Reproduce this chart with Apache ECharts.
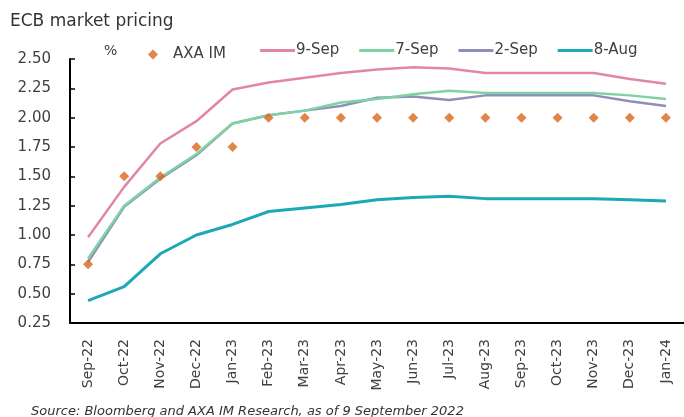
<!DOCTYPE html>
<html>
<head>
<meta charset="utf-8">
<script src="https://cdn.jsdelivr.net/npm/echarts@6/dist/echarts.min.js"></script>
<style>
  html, body { margin: 0; padding: 0; background: #fff; }
  #chart { width: 684px; height: 417px; }
</style>
</head>
<body>
<div id="chart"></div>
<script>
var months = ['Sep-22', 'Oct-22', 'Nov-22', 'Dec-22', 'Jan-23', 'Feb-23', 'Mar-23', 'Apr-23',
    'May-23', 'Jun-23', 'Jul-23', 'Aug-23', 'Sep-23', 'Oct-23', 'Nov-23', 'Dec-23', 'Jan-24'];

var axaIM = [0.75, 1.50, 1.50, 1.75, 1.75, 2.00, 2.00, 2.00, 2.00, 2.00, 2.00, 2.00, 2.00, 2.00, 2.00, 2.00, 2.00];
var sep9 = [0.98, 1.41, 1.78, 1.97, 2.24, 2.30, 2.34, 2.38, 2.41, 2.43, 2.42, 2.38, 2.38, 2.38, 2.38, 2.33, 2.29];
var sep7 = [0.80, 1.25, 1.49, 1.69, 1.95, 2.02, 2.06, 2.13, 2.16, 2.20, 2.23, 2.21, 2.21, 2.21, 2.21, 2.19, 2.16];
var sep2 = [0.77, 1.24, 1.48, 1.68, 1.95, 2.02, 2.06, 2.10, 2.17, 2.18, 2.15, 2.19, 2.19, 2.19, 2.19, 2.14, 2.10];
var aug8 = [0.44, 0.56, 0.84, 1.00, 1.09, 1.20, 1.23, 1.26, 1.30, 1.32, 1.33, 1.31, 1.31, 1.31, 1.31, 1.30, 1.29];

var font = 'DejaVu Sans';
var grey = '#404040';
var chart = echarts.init(document.getElementById('chart'));

function lineSeries(name, data, color, width) {
    return {
        name: name,
        type: 'line',
        data: data,
        symbol: 'none',
        lineStyle: { color: color, width: width },
        itemStyle: { color: color },
        z: 2
    };
}

var option = {
    animation: false,
    textStyle: { fontFamily: font },
    title: [
        {
            text: 'ECB market pricing',
            left: 5, top: 8,
            textStyle: { fontSize: 17, fontWeight: 'normal', color: '#333', fontFamily: font }
        },
        {
            text: '%',
            left: 99, top: 39,
            textStyle: { fontSize: 14, fontWeight: 'normal', color: grey, fontFamily: font }
        },
        {
            text: 'Source: Bloomberg and AXA IM Research, as of 9 September 2022',
            left: 26, top: 400,
            textStyle: { fontSize: 13, fontWeight: 'normal', fontStyle: 'italic', color: '#333', fontFamily: font }
        }
    ],
    legend: [
        {
            left: 143, top: 42,
            itemWidth: 10, itemHeight: 10,
            icon: 'diamond',
            data: ['AXA IM'],
            textStyle: { fontSize: 15, color: grey, fontFamily: font, padding: [0, 0, 0, 10] }
        },
        {
            left: 255, top: 38,
            itemWidth: 35, itemHeight: 3, itemGap: 20,
            icon: 'rect',
            data: ['9-Sep', '7-Sep', '2-Sep', '8-Aug'],
            textStyle: { fontSize: 15, color: grey, fontFamily: font, padding: [0, 0, 0, -4] }
        }
    ],
    grid: { left: 70, right: -3, top: 59, bottom: 94 },
    xAxis: {
        type: 'category',
        data: months,
        boundaryGap: true,
        axisLine: { lineStyle: { color: '#000', width: 2 } },
        axisTick: { inside: true, length: 6, lineStyle: { color: '#000', width: 1.5 } },
        axisLabel: { rotate: 90, interval: 0, fontSize: 14, color: grey, margin: 16, fontFamily: font }
    },
    yAxis: {
        type: 'value',
        min: 0.25, max: 2.5, interval: 0.25,
        axisLine: { show: true, lineStyle: { color: '#000', width: 2 } },
        axisTick: { show: true, inside: true, length: 5, lineStyle: { color: '#000', width: 1.5 } },
        splitLine: { show: false },
        axisLabel: {
            fontSize: 15, color: grey, margin: 19, fontFamily: font,
            formatter: function (v) { return v.toFixed(2); }
        }
    },
    series: [
        lineSeries('8-Aug', aug8, '#1da8b8', 3),
        lineSeries('2-Sep', sep2, '#8e8fbb', 2.5),
        lineSeries('7-Sep', sep7, '#7fd3a2', 2.5),
        lineSeries('9-Sep', sep9, '#e286a6', 2.5),
        {
            name: 'AXA IM',
            type: 'scatter',
            data: axaIM,
            symbol: 'diamond',
            symbolSize: 10,
            itemStyle: { color: '#d9661c' },
            z: 5
        }
    ]
};

chart.setOption(option);
</script>
</body>
</html>
